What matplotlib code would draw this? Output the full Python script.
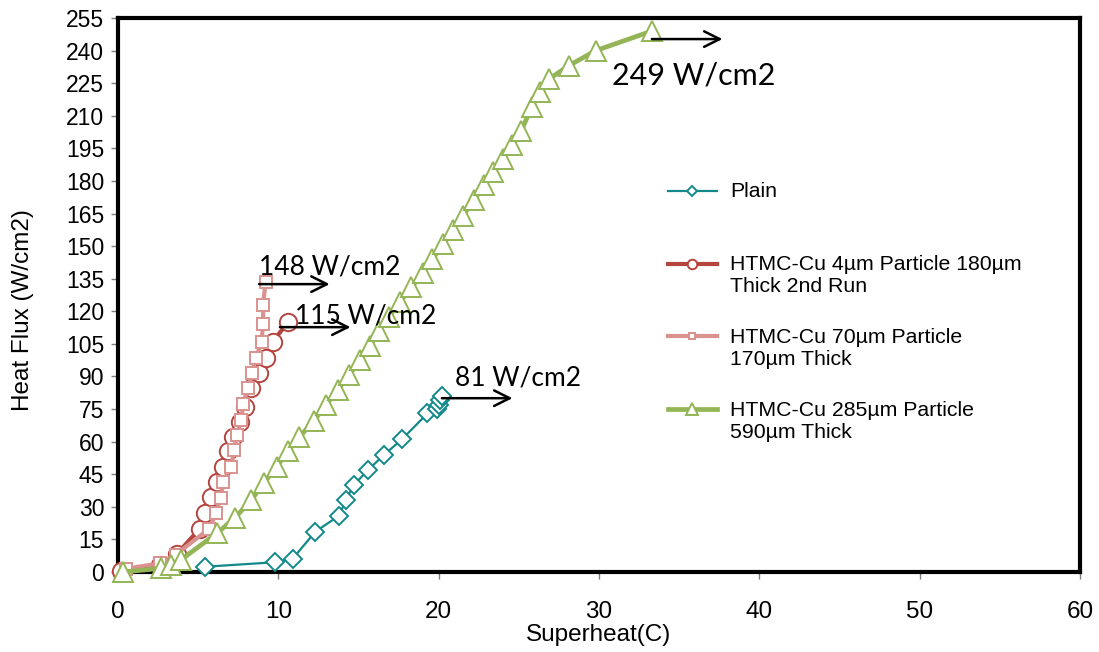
import numpy as np
import matplotlib
matplotlib.use("Agg")
import matplotlib.pyplot as plt
from matplotlib.legend_handler import HandlerLine2D

# boiling curves: superheat (C) vs heat flux (W/cm2)
plain_x = [5.4, 9.8, 10.9, 12.3, 13.8, 14.2, 14.7, 15.6, 16.6, 17.7, 19.3, 19.9, 20.0, 20.1, 20.2]
plain_y = [2.4, 4.5, 6.2, 18.5, 26, 33, 40, 47, 54, 61, 73, 75, 77, 79, 81]

cu4_x = [0.2, 2.6, 3.7, 5.1, 5.4, 5.8, 6.2, 6.55, 6.85, 7.2, 7.6, 7.9, 8.3, 8.8, 9.25, 9.65, 10.6]
cu4_y = [0.5, 3, 8.5, 20, 27, 34.5, 41.5, 48.5, 55.5, 62, 69, 76, 84.5, 91.5, 98.5, 106, 115]

cu70_x = [0.5, 2.6, 3.6, 5.7, 6.1, 6.4, 6.55, 7.05, 7.25, 7.4, 7.7, 7.8, 8.1, 8.35, 8.6,
          8.95, 9.05, 9.05, 9.2]
cu70_y = [1.5, 4, 8, 20, 27, 34, 41.5, 48.5, 56, 63, 70, 77.5, 84.5, 91.5, 98.5,
          106, 114, 123, 133.5]

cu285_x = [0.3, 2.7, 3.3, 3.9, 6.2, 7.3, 8.3, 9.1, 9.9, 10.6, 11.3, 12.2, 13.0, 13.7, 14.4,
           15.1, 15.7, 16.3, 16.9, 17.6, 18.3, 19.0, 19.6, 20.3, 20.9, 21.5, 22.2, 22.8,
           23.4, 24.0, 24.6, 25.15, 25.8, 26.3, 26.9, 28.1, 29.8, 33.3]
cu285_y = [0, 1.7, 3.2, 5.5, 18, 25, 33, 41, 48.5, 55.5, 62, 69.5, 77, 84, 90.5,
           97.5, 104, 111, 117.5, 124.5, 131, 137.5, 144, 151, 157.5, 164, 171, 178,
           184, 190, 196.5, 203, 214, 221, 227, 233, 240, 249]

labels = ["Plain\n ",
          "HTMC-Cu 4µm Particle 180µm\nThick 2nd Run",
          "HTMC-Cu 70µm Particle\n170µm Thick",
          "HTMC-Cu 285µm Particle\n590µm Thick"]

# critical heat flux callouts: text, arrow start, text anchor
chf_text = ["249 W/cm2", "148 W/cm2", "115 W/cm2", "81 W/cm2"]
chf_arrow = [(33.3, 245.3), (8.8, 132.5), (10.1, 112.7), (20.2, 80.0)]
chf_label = [(30.8, 228.5), (8.8, 140.5), (11.05, 118.0), (21.0, 89.3)]
chf_size = [22, 19, 19, 19]

TEAL = "#13898A"
RED = "#B5443F"
PINK = "#D9928F"
GREEN = "#93B555"

TICK_FONT = ["Liberation Sans", "DejaVu Sans"]


class FirstLineHandler(HandlerLine2D):
    """Put the legend swatch level with the first line of a two-line label."""

    def create_artists(self, legend, orig_handle, xdescent, ydescent, width, height,
                       fontsize, trans):
        return super().create_artists(legend, orig_handle, xdescent, ydescent - 1.15 * fontsize,
                                      width, height, fontsize, trans)


fig = plt.figure(figsize=(10.99, 6.52), dpi=100)
ax = fig.add_axes([0.1074, 0.1227, 0.8753, 0.8497])

series = [
    (plain_x, plain_y, TEAL, "D", 9.5, 1.6),
    (cu4_x, cu4_y, RED, "o", 12.5, 3.0),
    (cu70_x, cu70_y, PINK, "s", 9, 3.0),
    (cu285_x, cu285_y, GREEN, "^", 15, 3.4),
]
lines = []
for (xs, ys, color, marker, ms, lw), label in zip(series, labels):
    ln, = ax.plot(xs, ys, color=color, lw=lw, marker=marker, ms=ms, mfc="white",
                  mec=color, mew=1.4, label=label, clip_on=False, zorder=3)
    lines.append(ln)

for text, (x0, y0), (tx, ty), size in zip(chf_text, chf_arrow, chf_label, chf_size):
    ax.annotate("", xy=(x0 + 4.4, y0), xytext=(x0, y0),
                arrowprops=dict(arrowstyle="->", lw=1.8, color="black", mutation_scale=28,
                                shrinkA=0, shrinkB=0), zorder=5)
    ax.text(tx, ty, text, fontsize=size, family="Lato", ha="left", va="center", zorder=5)

ax.set_xlim(0, 60)
ax.set_ylim(0, 255)
ax.set_xticks(np.arange(0, 61, 10))
ax.set_yticks(np.arange(0, 256, 15))

for side in ax.spines.values():
    side.set_linewidth(3)
    side.set_color("black")
    side.set_zorder(2)

ax.tick_params(axis="both", direction="out", length=5, width=1, color="#7f7f7f")
ax.tick_params(axis="x", pad=16, labelsize=17.5)
ax.tick_params(axis="y", pad=5, labelsize=16.5)
for lab in ax.get_xticklabels() + ax.get_yticklabels():
    lab.set_family(TICK_FONT)

ax.set_xlabel("Superheat(C)", fontsize=17.5, family=TICK_FONT)
ax.set_ylabel("Heat Flux (W/cm2)", fontsize=17.5, family=TICK_FONT)
ax.xaxis.set_label_coords(0.499, -0.094)
ax.yaxis.set_label_coords(-0.087, 0.473)

leg = ax.legend(handles=lines, loc="center left", bbox_to_anchor=(0.5717, 0.469),
                frameon=False, borderpad=0, borderaxespad=0,
                handlelength=2.3, handletextpad=0.62, labelspacing=1.5,
                markerscale=0.55, numpoints=1,
                handler_map={ln: FirstLineHandler() for ln in lines},
                prop={"family": ["Liberation Sans", "DejaVu Sans"], "size": 15.3})

fig.savefig("out.png", dpi=100)
